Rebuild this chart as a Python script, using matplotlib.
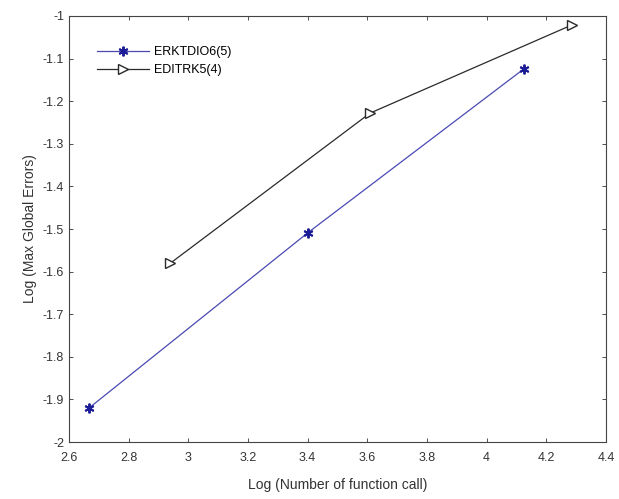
import matplotlib
matplotlib.use("Agg")
import matplotlib.pyplot as plt
import numpy as np

# ── data ────────────────────────────────────────────────────────────────────
erk_x = [2.667, 3.40, 4.125]
erk_y = [-1.92, -1.509, -1.124]
edi_x = [2.94, 3.609, 4.286]
edi_y = [-1.58, -1.228, -1.021]
series_labels = ["ERKTDIO6(5)", "EDITRK5(4)"]

x_ticks = np.round(np.arange(2.6, 4.41, 0.2), 1)
y_ticks = np.round(np.arange(-2.0, -0.99, 0.1), 1)

FONT = "Liberation Sans"
plt.rcParams["font.family"] = FONT

fig = plt.figure(figsize=(6.19, 4.99), dpi=100)
fig.patch.set_facecolor("white")
ax = fig.add_axes([0.1115, 0.114, 0.8675, 0.854])

# MATLAB-style asterisk marker
ax.plot(erk_x, erk_y, color="#4a4ab4", linewidth=0.9,
        marker=(6, 2, 0), markersize=7, markeredgewidth=1.4,
        markeredgecolor="#1c1c96", label=series_labels[0])
ax.plot(edi_x, edi_y, color="#2a2a2a", linewidth=0.9,
        marker=">", markersize=6.5, markerfacecolor="white",
        markeredgecolor="#2a2a2a", label=series_labels[1])

ax.set_xlim(2.6, 4.4)
ax.set_ylim(-2, -1)
ax.set_xticks(x_ticks)
ax.set_yticks(y_ticks)
ax.set_xticklabels([f"{v:g}" for v in x_ticks])
ax.set_yticklabels([f"{v:g}" for v in y_ticks])
ax.tick_params(direction="in", top=True, right=True, length=3,
               labelsize=9, colors="#333333", width=0.6)
ax.tick_params(axis="x", pad=7)
for sp in ax.spines.values():
    sp.set_color("#444444")
    sp.set_linewidth(0.8)

ax.set_xlabel("Log (Number of function call)", fontsize=10, color="#333333",
              labelpad=10)
ax.set_ylabel("Log (Max Global Errors)", fontsize=10, color="#333333")

ax.legend(loc="upper left", bbox_to_anchor=(0.035, 0.95), frameon=False,
          fontsize=9, handlelength=4.2, handletextpad=0.4,
          labelspacing=0.5, borderaxespad=0.3)

fig.savefig("out.png", dpi=100, facecolor="white")
plt.close(fig)
